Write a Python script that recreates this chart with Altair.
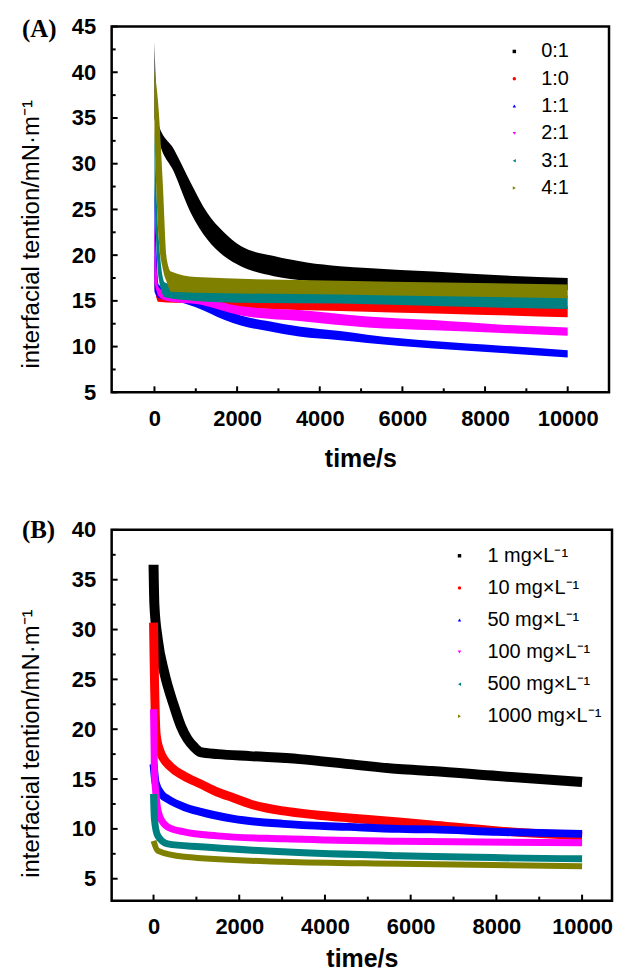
import altair as alt
import pandas as pd

FONT = "Liberation Sans, Arial, Helvetica, sans-serif"
SERIF = "Liberation Serif, Times New Roman, serif"

colors = ["#000000", "#ff0000", "#0000ff", "#ff00ff", "#008080", "#808000"]
shapes = ["square", "circle", "triangle-up", "triangle-down", "triangle-left", "triangle-right"]

# ---------------- Panel A: band limits (lower / upper)
A_labels = ["0:1", "1:0", "1:1", "2:1", "3:1", "4:1"]

A01_t = [0, 80, 480, 880, 1280, 1680, 2090, 2890, 3690, 4490, 5150, 6750, 8360, 10000]
A01_lo = [35.0, 33.0, 29.0, 24.6, 21.7, 19.9, 18.8, 17.7, 17.2, 17.0, 16.9, 16.6, 16.4, 16.2]
A01_hi = [43.3, 34.5, 31.5, 27.9, 24.6, 22.5, 21.0, 19.9, 19.2, 18.8, 18.6, 18.2, 17.8, 17.5]

A10_t = [0, 90, 500, 1000, 2090, 4490, 7000, 10000]
A10_lo = [16.5, 14.9, 14.8, 14.8, 14.3, 13.9, 13.6, 13.2]
A10_hi = [20.0, 16.0, 15.8, 15.6, 15.2, 14.9, 14.6, 14.4]

A11_t = [0, 100, 500, 1000, 1700, 2090, 2740, 3500, 4490, 5150, 6750, 8400, 10000]
A11_lo = [16.0, 15.3, 15.0, 14.3, 12.9, 12.3, 11.7, 11.1, 10.7, 10.4, 9.8, 9.3, 8.8]
A11_hi = [28.0, 16.8, 15.8, 15.1, 14.1, 13.4, 12.8, 12.2, 11.7, 11.3, 10.6, 10.1, 9.6]

A21_t = [0, 100, 300, 1100, 2090, 3500, 5150, 6750, 8400, 10000]
A21_lo = [17.0, 15.5, 15.0, 14.6, 13.4, 12.8, 12.1, 11.8, 11.5, 11.2]
A21_hi = [23.5, 16.5, 15.9, 15.4, 14.4, 14.0, 13.3, 12.9, 12.4, 12.1]

A31_t = [0, 100, 250, 1000, 2090, 4490, 7000, 10000]
A31_lo = [26.0, 17.5, 15.4, 15.0, 14.8, 14.7, 14.4, 14.1]
A31_hi = [33.7, 22.0, 17.0, 16.3, 16.0, 15.9, 15.8, 15.6]

A41_t = [0, 100, 200, 300, 400, 1000, 4490, 7000, 10000]
A41_lo = [33.0, 22.0, 18.5, 17.0, 16.0, 15.9, 15.7, 15.5, 15.3]
A41_hi = [40.2, 36.0, 28.0, 19.5, 18.2, 17.6, 17.2, 17.0, 16.8]

# ---------------- Panel B: curve values
B_labels = ["1 mg\u00d7L\u207b\u00b9", "10 mg\u00d7L\u207b\u00b9", "50 mg\u00d7L\u207b\u00b9",
            "100 mg\u00d7L\u207b\u00b9", "500 mg\u00d7L\u207b\u00b9", "1000 mg\u00d7L\u207b\u00b9"]

B1_t = [0, 20, 100, 250, 480, 640, 795, 950, 1100, 1500, 2256, 3411, 4566, 5720, 6490, 8030, 10000]
B1_v = [36.5, 32.5, 29.0, 25.7, 22.3, 20.3, 19.0, 18.2, 17.7, 17.5, 17.3, 17.0, 16.5, 16.0, 15.8, 15.3, 14.7]

B10_t = [0, 20, 60, 150, 406, 715, 1100, 1485, 1870, 2256, 3030, 3800, 4566, 5720, 6490, 8030, 10000]
B10_v = [30.7, 25.5, 19.5, 17.8, 16.2, 15.3, 14.5, 13.7, 13.1, 12.5, 11.8, 11.4, 11.1, 10.7, 10.4, 9.8, 9.3]

B50_t = [0, 50, 200, 330, 715, 1100, 1870, 3030, 4566, 5720, 6490, 8030, 10000]
B50_v = [16.5, 14.6, 13.4, 13.0, 12.2, 11.7, 11.0, 10.5, 10.2, 10.0, 9.95, 9.7, 9.5]

B100_t = [0, 20, 60, 140, 330, 715, 1485, 3030, 5720, 10000]
B100_v = [22.0, 16.0, 13.3, 11.3, 10.2, 9.7, 9.3, 9.0, 8.75, 8.6]

B500_t = [0, 20, 100, 330, 1100, 3030, 5720, 10000]
B500_v = [13.5, 11.0, 9.3, 8.5, 8.2, 7.7, 7.3, 7.0]

B1000_t = [0, 100, 715, 3030, 5720, 10000]
B1000_v = [8.8, 7.8, 7.2, 6.7, 6.5, 6.25]

B_widths = [10, 9, 8, 7, 7, 6]

# ticks
xt_major = [0, 2000, 4000, 6000, 8000, 10000]
xt_minor = [1000, 3000, 5000, 7000, 9000]
yA_major = [5, 10, 15, 20, 25, 30, 35, 40, 45]
yA_minor = [7.5, 12.5, 17.5, 22.5, 27.5, 32.5, 37.5, 42.5]
yB_major = [5, 10, 15, 20, 25, 30, 35, 40]
yB_minor = [7.5, 12.5, 17.5, 22.5, 27.5, 32.5, 37.5]

# ---------------- build tables
A_sets = [(A01_t, A01_lo, A01_hi), (A10_t, A10_lo, A10_hi), (A11_t, A11_lo, A11_hi),
          (A21_t, A21_lo, A21_hi), (A31_t, A31_lo, A31_hi), (A41_t, A41_lo, A41_hi)]
dfA = pd.concat([pd.DataFrame({"series": n, "t": t, "lo": lo, "hi": hi})
                 for n, (t, lo, hi) in zip(A_labels, A_sets)], ignore_index=True)

B_sets = [(B1_t, B1_v), (B10_t, B10_v), (B50_t, B50_v), (B100_t, B100_v), (B500_t, B500_v), (B1000_t, B1000_v)]
dfB = pd.concat([pd.DataFrame({"series": n, "t": t, "v": v})
                 for n, (t, v) in zip(B_labels, B_sets)], ignore_index=True)

W_A, H_A = 499, 367
W_B, H_B = 502, 372


def x_axis(lab_pad, title_pad):
    return alt.Axis(values=xt_major, format="d", title="time/s", ticks=False, domain=False, grid=False,
                    labelPadding=lab_pad, titlePadding=title_pad, labelFontSize=22, labelFontWeight="bold",
                    labelFont=FONT, titleFont=FONT, titleFontSize=25, titleFontWeight="bold",
                    labelColor="black", titleColor="black", labelFlush=False, labelOverlap=False)


def y_axis(vals, ty):
    return alt.Axis(values=vals, title="interfacial tention/mN\u00b7m\u207b\u00b9", ticks=False, domain=False,
                    grid=False, labelPadding=16, titlePadding=27.5, labelFontSize=22, labelFontWeight="bold",
                    labelFont=FONT, titleFont=FONT, titleFontSize=24, titleFontWeight="normal",
                    labelColor="black", titleColor="black", labelOverlap=False, titleY=ty)


def legend(lx, ly, rowpad, laboff):
    return alt.Legend(title=None, orient="none", legendX=lx, legendY=ly, padding=0, rowPadding=rowpad,
                      labelOffset=laboff, labelFontSize=20, labelFont=FONT, labelColor="black",
                      symbolSize=12, symbolStrokeWidth=0)


def tick_layers(xscale, yscale, xax, yax, H, ymaj, ymin):
    layers = []
    for vals, ln in [(xt_major, 6), (xt_minor, 4)]:
        layers.append(alt.Chart(pd.DataFrame({"t": vals})).mark_rule(color="black", strokeWidth=2).encode(
            x=alt.X("t:Q", scale=xscale, axis=xax), y=alt.value(H), y2=alt.value(H - ln)))
    for vals, ln in [(ymaj, 6), (ymin, 4)]:
        layers.append(alt.Chart(pd.DataFrame({"v": vals})).mark_rule(color="black", strokeWidth=2).encode(
            y=alt.Y("v:Q", scale=yscale, axis=yax), x=alt.value(0), x2=alt.value(ln)))
    return layers


# ---------------- Panel A
xsA = alt.Scale(domain=[-1036, 11000], nice=False, zero=False)
ysA = alt.Scale(domain=[5, 45], nice=False, zero=False)
xaxA = x_axis(16.5, 16.5)
yaxA = y_axis(yA_major, 208)
legA = legend(394, 15, 7.4, 17)

ptsA = alt.Chart(dfA).transform_filter("datum.t > 0 && datum.t < 10000").transform_calculate(
    mid="(datum.lo + datum.hi) / 2").mark_point(filled=True, size=12, opacity=1).encode(
    x=alt.X("t:Q", scale=xsA, axis=xaxA),
    y=alt.Y("mid:Q", scale=ysA, axis=yaxA),
    fill=alt.Fill("series:N", scale=alt.Scale(domain=A_labels, range=colors), legend=legA),
    shape=alt.Shape("series:N", scale=alt.Scale(domain=A_labels, range=shapes), legend=legA),
)

bandsA = []
for name, col in zip(A_labels, colors):
    bandsA.append(alt.Chart(dfA).transform_filter(alt.datum.series == name).mark_area(
        color=col, opacity=1, interpolate="monotone", orient="vertical").encode(
        x=alt.X("t:Q", scale=xsA, axis=xaxA),
        y=alt.Y("lo:Q", scale=ysA, axis=yaxA),
        y2="hi:Q"))

labA = alt.Chart(pd.DataFrame({"lab": ["(A)"]})).mark_text(
    font=SERIF, fontSize=25, fontWeight="bold", align="left", baseline="middle", color="black").encode(
    text="lab:N", x=alt.value(-90), y=alt.value(3))

panelA = alt.layer(ptsA, *bandsA, *tick_layers(xsA, ysA, xaxA, yaxA, H_A, yA_major, yA_minor), labA).properties(
    width=W_A, height=H_A)

# ---------------- Panel B
xsB = alt.Scale(domain=[-977, 10698], nice=False, zero=False)
ysB = alt.Scale(domain=[2.8, 40], nice=False, zero=False)
xaxB = x_axis(16, 9)
yaxB = y_axis(yB_major, 214)
legB = legend(339, 16, 12.2, 18)

ptsB = alt.Chart(dfB).transform_filter("datum.t > 0 && datum.t < 10000").mark_point(
    filled=True, size=12, opacity=1).encode(
    x=alt.X("t:Q", scale=xsB, axis=xaxB),
    y=alt.Y("v:Q", scale=ysB, axis=yaxB),
    fill=alt.Fill("series:N", scale=alt.Scale(domain=B_labels, range=colors), legend=legB),
    shape=alt.Shape("series:N", scale=alt.Scale(domain=B_labels, range=shapes), legend=legB),
)

linesB = []
for name, col, sw in zip(B_labels, colors, B_widths):
    linesB.append(alt.Chart(dfB).transform_filter(alt.datum.series == name).mark_line(
        color=col, strokeWidth=sw, interpolate="monotone").encode(
        x=alt.X("t:Q", scale=xsB, axis=xaxB),
        y=alt.Y("v:Q", scale=ysB, axis=yaxB)))

labB = alt.Chart(pd.DataFrame({"lab": ["(B)"]})).mark_text(
    font=SERIF, fontSize=25, fontWeight="bold", align="left", baseline="middle", color="black").encode(
    text="lab:N", x=alt.value(-90), y=alt.value(0))

panelB = alt.layer(ptsB, *linesB, *tick_layers(xsB, ysB, xaxB, yaxB, H_B, yB_major, yB_minor), labB).properties(
    width=W_B, height=H_B)

chart = alt.vconcat(panelA, panelB, spacing=138, bounds="flush").resolve_scale(
    x="independent", y="independent", fill="independent", shape="independent"
).configure_view(stroke="black", strokeWidth=2.5, fill="white").properties(
    padding={"left": 10, "top": 4, "right": 0, "bottom": -2}, background="white")

chart.save("out.html", embed_options={"renderer": "svg", "actions": False})
